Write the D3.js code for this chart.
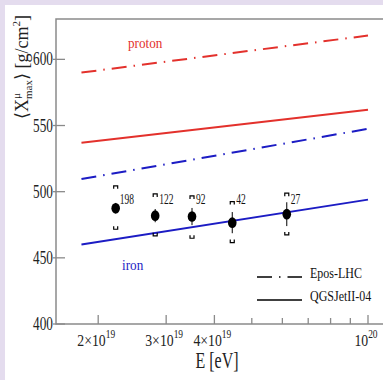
<!DOCTYPE html>
<html><head><meta charset="utf-8">
<script src="https://cdn.jsdelivr.net/npm/d3@7"></script>
<style>html,body{margin:0;padding:0;background:#e4dcee;}svg{display:block;}</style>
</head><body>
<script>
// ---- data ----
const modelNames = ["Epos-LHC", "QGSJetII-04"];
const lineEnergy = [1.81e19, 1.0e20];
const protonEpos = [590, 618];
const protonQGS = [537, 562];
const ironEpos = [509.5, 547.5];
const ironQGS = [460, 494];
const pointEnergy = [2.22e19, 2.81e19, 3.50e19, 4.45e19, 6.16e19];
const pointXmax = [487.5, 481.9, 481.2, 476.6, 483.0];
const statErr = [4, 5, 6.5, 8, 9];
const sysUp = [504.4, 498.3, 496.8, 492.5, 498.9];
const sysDown = [471.6, 466.6, 464.8, 461.5, 467.3];
const eventCounts = ["198", "122", "92", "42", "27"];
const yTicks = [400, 450, 500, 550, 600];
const xMajorTicks = [2e19, 3e19, 4e19, 1e20];
const xMajorLabels = [["2×10", "19"], ["3×10", "19"], ["4×10", "19"], ["10", "20"]];
const xMinorTicks = [5e19, 6e19, 7e19, 8e19, 9e19];

const W = 383, H = 380;
const svg = d3.select("body").append("svg").attr("width", W).attr("height", H);
svg.append("rect").attr("x", 5).attr("y", 5).attr("width", W).attr("height", H).attr("fill", "#fff");

const pL = 56, pT = 19, pB = 324;
const x = d3.scaleLog().domain([1.555e19, 1e20]).range([pL, 368]);
const y = d3.scaleLinear().domain([400, 630.5]).range([pB, pT]);

const RED = "#e3312c", BLUE = "#1c1cc4", AX = "#8a8a8a";
const serif = "'Liberation Serif', 'DejaVu Serif', serif";

// frame
svg.append("path").attr("d", `M${W + 10},${pT}H${pL}V${pB}H${W + 10}`)
  .attr("fill", "none").attr("stroke", AX).attr("stroke-width", 1.5);

// y ticks
yTicks.forEach(v => {
  svg.append("line").attr("x1", pL - 3).attr("x2", pL + 9).attr("y1", y(v)).attr("y2", y(v))
    .attr("stroke", AX).attr("stroke-width", 1.3);
  svg.append("text").attr("transform", `translate(${pL - 3},${y(v) + 6}) scale(0.78,1.05)`)
    .attr("text-anchor", "end").attr("font-family", serif).attr("font-size", 17).attr("fill", "#222").text(v);
});
// x ticks
xMajorTicks.forEach((v, i) => {
  svg.append("line").attr("x1", x(v)).attr("x2", x(v)).attr("y1", pB).attr("y2", pB - 9)
    .attr("stroke", AX).attr("stroke-width", 1.3);
  const t = svg.append("text").attr("transform", `translate(${x(v) - 2},${pB + 22}) scale(0.86,1.05)`)
    .attr("text-anchor", "middle").attr("font-family", serif).attr("font-size", 16).attr("fill", "#222");
  t.append("tspan").text(xMajorLabels[i][0]);
  t.append("tspan").attr("dy", -8).attr("font-size", 11).text(xMajorLabels[i][1]);
});
xMinorTicks.forEach(v => {
  svg.append("line").attr("x1", x(v)).attr("x2", x(v)).attr("y1", pB).attr("y2", pB - 6)
    .attr("stroke", AX).attr("stroke-width", 1.3);
});

// model lines
const line = d3.line().x(d => x(d[0])).y(d => y(d[1]));
const dashDot = "15,7,1.5,7";
function model(vals, color, dash) {
  svg.append("path").datum(lineEnergy.map((e, i) => [e, vals[i]])).attr("d", line)
    .attr("fill", "none").attr("stroke", color).attr("stroke-width", 2)
    .attr("stroke-dasharray", dash);
}
model(protonEpos, RED, dashDot);
model(protonQGS, RED, null);
model(ironEpos, BLUE, dashDot);
model(ironQGS, BLUE, null);

// data points
pointEnergy.forEach((e, i) => {
  const cx = x(e);
  svg.append("line").attr("x1", cx).attr("x2", cx).attr("y1", y(pointXmax[i] + statErr[i])).attr("y2", y(pointXmax[i] - statErr[i]))
    .attr("stroke", "#000").attr("stroke-width", 1);
  svg.append("ellipse").attr("cx", cx).attr("cy", y(pointXmax[i])).attr("rx", 4.3).attr("ry", 5.3).attr("fill", "#000");
  const yu = y(sysUp[i]), yd = y(sysDown[i]);
  svg.append("path").attr("d", `M${cx - 2},${yu + 3}V${yu}H${cx + 2}V${yu + 3}`).attr("fill", "none").attr("stroke", "#000").attr("stroke-width", 1.2);
  svg.append("path").attr("d", `M${cx - 2},${yd - 3}V${yd}H${cx + 2}V${yd - 3}`).attr("fill", "none").attr("stroke", "#000").attr("stroke-width", 1.2);
  svg.append("text").attr("transform", `translate(${cx + 4},${y(491)}) scale(0.68,1)`)
    .attr("font-family", serif).attr("font-size", 14).attr("fill", "#111").text(eventCounts[i]);
});

// labels
svg.append("text").attr("transform", "translate(128,48) scale(0.88,1)").attr("font-family", serif)
  .attr("font-size", 15).attr("fill", RED).text("proton");
svg.append("text").attr("transform", "translate(122,270) scale(0.88,1)").attr("font-family", serif)
  .attr("font-size", 15).attr("fill", BLUE).text("iron");

// legend
const lg = [[277, dashDot], [300, null]];
lg.forEach((l, i) => {
  svg.append("line").attr("x1", 257).attr("x2", 302).attr("y1", l[0]).attr("y2", l[0])
    .attr("stroke", "#000").attr("stroke-width", 1.3).attr("stroke-dasharray", l[1]);
  svg.append("text").attr("transform", `translate(310,${l[0] + 1}) scale(0.8,1)`).attr("font-family", serif)
    .attr("font-size", 15).attr("fill", "#111").text(modelNames[i]);
});

// axis titles
svg.append("text").attr("transform", "translate(217,368) scale(0.8,1.12)").attr("text-anchor", "middle")
  .attr("font-family", serif).attr("font-size", 20).attr("fill", "#222").text("E [eV]");
const yt = svg.append("text").attr("transform", "translate(28,67) rotate(-90)").attr("text-anchor", "middle")
  .attr("font-family", serif).attr("font-size", 18).attr("fill", "#222");
yt.append("tspan").text("⟨X");
yt.append("tspan").attr("dy", -8).attr("font-size", 11).text("μ");
yt.append("tspan").attr("dy", 12).attr("dx", -6).attr("font-size", 11).text("max");
yt.append("tspan").attr("dy", -4).text("⟩ [g/cm");
yt.append("tspan").attr("dy", -8).attr("font-size", 11).text("2");
yt.append("tspan").attr("dy", 8).text("]");
</script>
</body></html>
